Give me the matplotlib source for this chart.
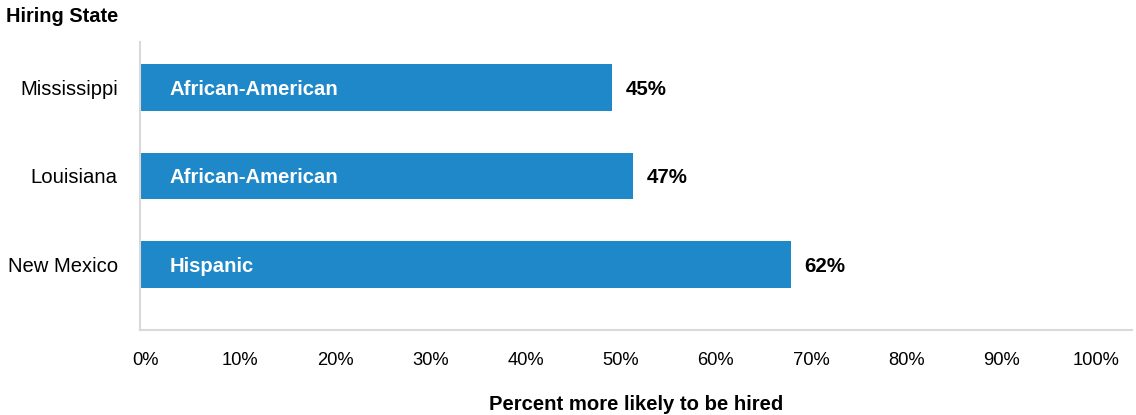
import matplotlib
matplotlib.use("Agg")
import matplotlib.pyplot as plt
import numpy as np

plt.rcParams['font.family'] = ['Liberation Sans', 'DejaVu Sans']

states = ["Mississippi", "Louisiana", "New Mexico"]
groups = ["African-American", "African-American", "Hispanic"]
values = [45, 47, 62]
tick_labels = ["0%", "10%", "20%", "30%", "40%", "50%", "60%", "70%", "80%", "90%", "100%"]

bar_color = "#1f88c9"
spine_color = "#d9d9d9"

fig = plt.figure(figsize=(11.36, 4.15), dpi=100)
ax = fig.add_axes([140/1136, 1-330/415, (1132-140)/1136, (330-42)/415])

y = np.arange(len(states))
ax.barh(y, values, height=0.53, color=bar_color)
ax.set_xlim(0, 94.5)
ax.set_ylim(2.74, -0.514)

ax.set_yticks(y)
ax.set_yticklabels(states, fontsize=14.6)
ax.tick_params(axis='y', length=0, pad=16)

tick_pos = np.linspace(0.5, 91.1, len(tick_labels))
ax.set_xticks(tick_pos)
ax.set_xticklabels(tick_labels, fontsize=13.2)
ax.tick_params(axis='x', length=0, pad=16)

for s in ["top", "right"]:
    ax.spines[s].set_visible(False)
for s in ["left", "bottom"]:
    ax.spines[s].set_color(spine_color)
    ax.spines[s].set_linewidth(1.5)

for yi, v, g in zip(y, values, groups):
    ax.text(2.85, yi, g, color="white", fontsize=14.6, fontweight="bold", va="center_baseline", ha="left")
    ax.text(v + 1.25, yi, f"{v}%", color="black", fontsize=14.8, fontweight="bold", va="center_baseline", ha="left")

fig.text(6/1136, 1-17/415, "Hiring State", fontsize=14.4, fontweight="bold", ha="left", va="center")
fig.text(636/1136, 1-404/415, "Percent more likely to be hired", fontsize=14.6, fontweight="bold", ha="center", va="center")

fig.savefig("out.png", dpi=100)
